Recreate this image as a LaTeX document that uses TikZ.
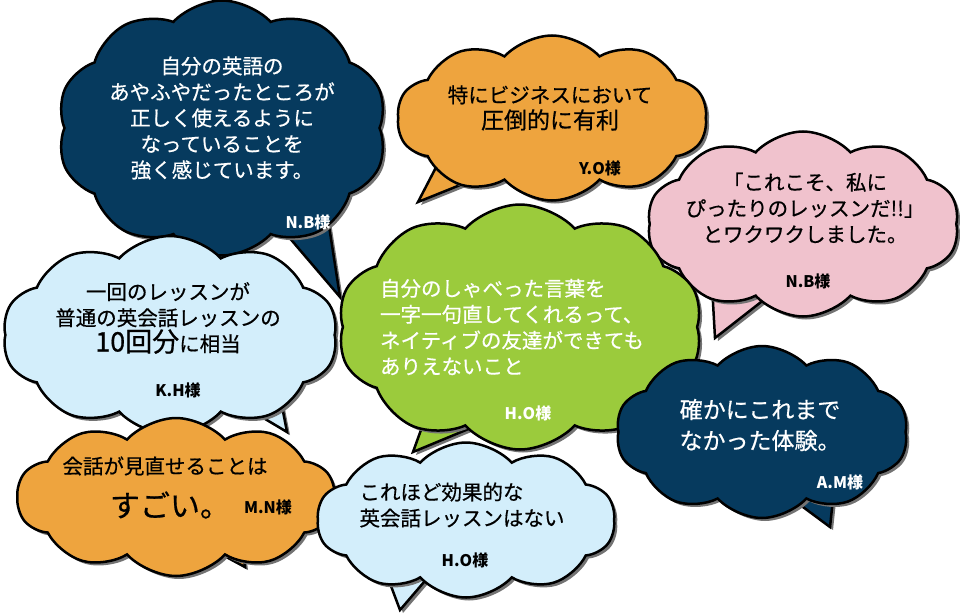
\documentclass[tikz,border=0pt]{standalone}
\usepackage{fontspec}
\setmainfont{Noto Sans CJK JP}
\newfontfamily\jpmed{Noto Sans CJK JP}[FakeBold=0.6]
\usetikzlibrary{shapes.symbols,shadows}
\definecolor{navy}{HTML}{063A5E}
\definecolor{peach}{HTML}{EEA43E}
\definecolor{rose}{HTML}{F0C2CD}
\definecolor{sky}{HTML}{D3EEFB}
\definecolor{lime}{HTML}{9BCB3C}

\begin{document}
\begin{tikzpicture}[x=1pt,y=-1pt,
  bubble/.style={cloud,cloud puffs=10,cloud puff arc=95,cloud ignores aspect,draw=black,line width=2.5pt,inner sep=0pt,
    drop shadow={fill=black!55,shadow xshift=3pt,shadow yshift=-3pt,opacity=1}},
  tail/.style={draw=black,line width=2.5pt,line join=miter,
    drop shadow={fill=black!55,shadow xshift=3pt,shadow yshift=-3pt,opacity=1}},
  says/.style={align=center,font=\jpmed\fontsize{20.5}{26}\selectfont},
  who/.style={font=\bfseries\fontsize{16}{19}\selectfont}]
\useasboundingbox (0,0) rectangle (960,615);

% N.B (navy)
\draw[tail,fill=navy] (270,215) -- (340,297) -- (325,200) -- cycle;
\node[bubble,fill=navy,minimum width=330,minimum height=255] (nb) at (222,128) {};
\node[says,text=white] (nbtext) at (222,118) {自分の英語の\\あやふやだったところが\\正しく使えるように\\なっていることを\\強く感じています。};
\node[who,text=white] (nbname) at (308,222) {N.B様};

% Y.O (orange)
\draw[tail,fill=peach] (445,150) -- (418,202) -- (485,175) -- cycle;
\node[bubble,fill=peach,minimum width=310,minimum height=165] (yo) at (552,118) {};
\node[says] (yotext) at (550,108) {特にビジネスにおいて\\\fontsize{23}{28}\selectfont 圧倒的に有利};
\node[who] (yoname) at (600,168) {Y.O様};

% N.B (pink)
\draw[tail,fill=rose] (712,285) -- (715,338) -- (770,295) -- cycle;
\node[bubble,fill=rose,minimum width=312,minimum height=185] (pk) at (803,224) {};
\node[says] (pktext) at (805,208) {「これこそ、私に\\ぴったりのレッスンだ!!」\\とワクワクしました。};
\node[who] (pkname) at (808,281) {N.B様};

% H.O (green)
\draw[tail,fill=lime] (430,405) -- (413,452) -- (490,420) -- cycle;
\node[bubble,fill=lime,minimum width=365,minimum height=245] (ho) at (520,327) {};
\node[says,text=white,align=left] (hotext) at (512,327) {自分のしゃべった言葉を\\一字一句直してくれるって、\\ネイティブの友達ができても\\ありえないこと};
\node[who,text=white] (honame) at (528,413) {H.O様};

% K.H (sky)
\draw[tail,fill=sky] (225,395) -- (287,432) -- (275,370) -- cycle;
\node[bubble,fill=sky,minimum width=335,minimum height=198] (kh) at (170,335) {};
\node[says] (khtext) at (168,318) {一回のレッスンが\\普通の英会話レッスンの\\{\fontsize{27}{32}\selectfont 10回分}に相当};
\node[who] (khname) at (178,390) {K.H様};

% A.M (navy)
\draw[tail,fill=navy] (780,490) -- (830,527) -- (835,480) -- cycle;
\node[bubble,fill=navy,minimum width=292,minimum height=172] (am) at (762,432) {};
\node[says,text=white,font=\jpmed\fontsize{23}{31}\selectfont] (amtext) at (760,425) {確かにこれまで\\なかった体験。};
\node[who,text=white] (amname) at (840,482) {A.M様};

% M.N (orange)
\draw[tail,fill=peach] (195,540) -- (245,567) -- (240,525) -- cycle;
\node[bubble,fill=peach,minimum width=318,minimum height=158] (mn) at (176,497) {};
\node[says] (mntext) at (165,466) {会話が見直せることは};
\node[font=\jpmed\fontsize{30}{34}\selectfont] (mnbig) at (170,505) {すごい。};
\node[who] (mnname) at (268,507) {M.N様};

% H.O (sky)
\draw[tail,fill=sky] (385,570) -- (400,610) -- (430,575) -- cycle;
\node[bubble,fill=sky,minimum width=298,minimum height=155] (hs) at (466,520) {};
\node[says,align=left] (hstext) at (462,505) {これほど効果的な\\英会話レッスンはない};
\node[who] (hsname) at (465,560) {H.O様};
\end{tikzpicture}
\end{document}
